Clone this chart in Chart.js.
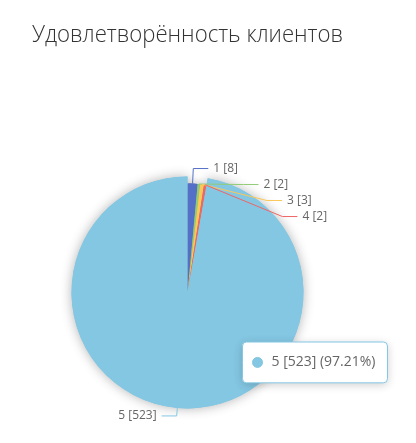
<!DOCTYPE html>
<html lang="ru">
<head>
<meta charset="utf-8">
<title>Удовлетворённость клиентов</title>
<script src="https://cdn.jsdelivr.net/npm/chart.js@4.4.1/dist/chart.umd.min.js"></script>
<style>
  html, body { margin: 0; padding: 0; background: #fff; }
  #wrap { width: 416px; height: 443px; position: relative; }
</style>
</head>
<body>
<div id="wrap"><canvas id="satisfaction-chart"></canvas></div>
<script>
// ==========================================
// DATA
// ==========================================

const categories = ['1', '2', '3', '4', '5'];
const counts = [8, 2, 3, 2, 523];
const sliceColors = ['#5470c6', '#91cc75', '#fac858', '#ee6666', '#84c7e3'];
const chartTitle = 'Удовлетворённость клиентов';

// hovered slice (the one with the tooltip)
const activeIndex = 4;

const PIE_RADIUS = 109;
const ACTIVE_GROW = 7;
const LINE1 = 15;
const LINE2 = 15;
const LABEL_GAP = 16;
const SHIFTED_RADIUS = PIE_RADIUS + 12.5;

const total = counts.reduce((a, b) => a + b, 0);

// ==========================================
// PLUGINS
// ==========================================

/**
 * Enlarges the active slice and draws the soft shadow behind the pie
 */
const pieDecor = {
  id: 'pieDecor',
  beforeDatasetsDraw(chart) {
    const meta = chart.getDatasetMeta(0);
    meta.data.forEach((arc, i) => {
      arc.outerRadius = i === activeIndex ? PIE_RADIUS + ACTIVE_GROW : PIE_RADIUS;
    });

    const ctx = chart.ctx;
    ctx.save();
    ctx.shadowColor = 'rgba(0, 0, 0, 0.3)';
    ctx.shadowBlur = 12;
    meta.data.forEach(arc => arc.draw(ctx));
    ctx.restore();
  }
};

/**
 * Outside labels with two-segment leader lines
 */
const leaderLabels = {
  id: 'leaderLabels',
  afterDatasetsDraw(chart) {
    const ctx = chart.ctx;
    const meta = chart.getDatasetMeta(0);
    const R = PIE_RADIUS + LINE1;

    const items = meta.data.map((arc, i) => {
      const mid = (arc.startAngle + arc.endAngle) / 2;
      const cos = Math.cos(mid);
      const sin = Math.sin(mid);
      return {
        i,
        cx: arc.x,
        cy: arc.y,
        right: cos >= 0,
        x0: arc.x + arc.outerRadius * cos,
        y0: arc.y + arc.outerRadius * sin,
        x1: arc.x + R * cos,
        y1: arc.y + R * sin
      };
    });

    // push overlapping labels apart, per side
    [true, false].forEach(side => {
      const list = items.filter(it => it.right === side).sort((a, b) => a.y1 - b.y1);
      let prev = -Infinity;
      list.forEach(it => {
        if (it.y1 < prev + LABEL_GAP) {
          it.y1 = prev + LABEL_GAP;
          const dy = it.y1 - it.cy;
          const dx = Math.sqrt(Math.max(SHIFTED_RADIUS * SHIFTED_RADIUS - dy * dy, 0));
          it.x1 = it.cx + (side ? dx : -dx);
        }
        prev = it.y1;
      });
    });

    ctx.save();
    ctx.font = '12px "Open Sans", sans-serif';
    ctx.textBaseline = 'middle';
    ctx.lineWidth = 1;
    items.forEach(it => {
      const dir = it.right ? 1 : -1;
      const x2 = it.x1 + dir * LINE2;
      ctx.strokeStyle = sliceColors[it.i];
      ctx.beginPath();
      ctx.moveTo(it.x0, it.y0);
      ctx.lineTo(it.x1, it.y1);
      ctx.lineTo(x2, it.y1);
      ctx.stroke();

      ctx.fillStyle = '#666';
      ctx.textAlign = it.right ? 'left' : 'right';
      ctx.fillText(categories[it.i] + ' [' + counts[it.i] + ']', x2 + dir * 5, it.y1);
    });
    ctx.restore();
  },
  beforeTooltipDraw(chart, args) {
    // drop shadow under the tooltip box
    const tip = args.tooltip;
    const ctx = chart.ctx;
    ctx.save();
    ctx.shadowColor = 'rgba(0, 0, 0, 0.2)';
    ctx.shadowBlur = 10;
    ctx.shadowOffsetY = 2;
    ctx.fillStyle = '#fff';
    ctx.beginPath();
    ctx.roundRect(tip.x, tip.y, tip.width, tip.height, 4);
    ctx.fill();
    ctx.restore();
  }
};

// fixed tooltip spot, to the lower right of the pie centre
Chart.Tooltip.positioners.pieSide = function(elements) {
  if (!elements.length) return false;
  const el = elements[0].element;
  return { x: el.x + 55, y: el.y + 70, xAlign: 'left', yAlign: 'center' };
};

// ==========================================
// CHART
// ==========================================

const ctx = document.getElementById('satisfaction-chart').getContext('2d');

const chart = new Chart(ctx, {
  type: 'pie',
  data: {
    labels: categories,
    datasets: [{
      data: counts,
      backgroundColor: sliceColors,
      hoverBackgroundColor: sliceColors,
      borderWidth: 0,
      hoverBorderWidth: 0,
      hoverOffset: 0
    }]
  },
  options: {
    responsive: true,
    maintainAspectRatio: false,
    animation: false,
    events: [],
    radius: PIE_RADIUS,
    layout: {
      padding: { left: 32, right: 73, top: 0, bottom: 0 }
    },
    plugins: {
      legend: { display: false },
      title: {
        display: true,
        text: chartTitle,
        align: 'start',
        color: '#333',
        font: { family: "'Open Sans', sans-serif", size: 24, weight: '300' },
        padding: { top: 21, bottom: 92 }
      },
      tooltip: {
        position: 'pieSide',
        backgroundColor: '#fff',
        borderColor: sliceColors[activeIndex],
        borderWidth: 1,
        cornerRadius: 4,
        caretSize: 0,
        caretPadding: 0,
        padding: { left: 10, right: 12, top: 12, bottom: 12 },
        bodyColor: '#666',
        bodyFont: { family: "'Open Sans', sans-serif", size: 14 },
        displayColors: true,
        usePointStyle: true,
        boxWidth: 10,
        boxHeight: 10,
        boxPadding: 7,
        callbacks: {
          title: () => '',
          label: item => {
            const pct = (item.parsed / total * 100).toFixed(2);
            return item.label + ' [' + item.parsed + '] (' + pct + '%)';
          },
          labelColor: item => ({
            borderColor: sliceColors[item.dataIndex],
            backgroundColor: sliceColors[item.dataIndex]
          })
        }
      }
    }
  },
  plugins: [pieDecor, leaderLabels]
});

const arc = chart.getDatasetMeta(0).data[activeIndex];
chart.tooltip.setActiveElements(
  [{ datasetIndex: 0, index: activeIndex }],
  { x: arc.x, y: arc.y }
);
chart.update();
</script>
</body>
</html>
